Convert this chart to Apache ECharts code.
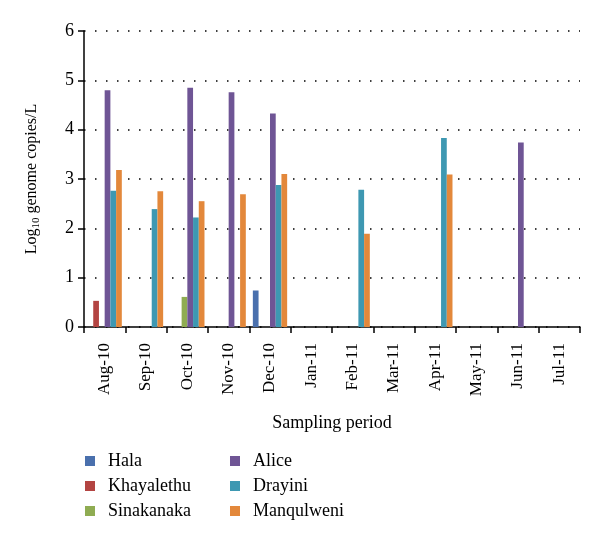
<!DOCTYPE html>
<html>
<head>
<meta charset="utf-8">
<script src="https://cdn.jsdelivr.net/npm/echarts@6/dist/echarts.min.js"></script>
<style>html,body{margin:0;padding:0;background:#fff;}#c{width:600px;height:540px;}</style>
</head>
<body>
<div id="c"></div>
<script>
const categories = ['Aug-10','Sep-10','Oct-10','Nov-10','Dec-10','Jan-11','Feb-11','Mar-11','Apr-11','May-11','Jun-11','Jul-11'];
const hala       = [null, null, null, null, 0.74, null, null, null, null, null, null, null];
const khayalethu = [0.53, null, null, null, null, null, null, null, null, null, null, null];
const sinakanaka = [null, null, 0.61, null, null, null, null, null, null, null, null, null];
const alice      = [4.80, null, 4.85, 4.76, 4.33, null, null, null, null, null, 3.74, null];
const drayini    = [2.76, 2.39, 2.22, null, 2.88, null, 2.78, null, 3.83, null, null, null];
const manqulweni = [3.18, 2.75, 2.55, 2.69, 3.10, null, 1.89, null, 3.09, null, null, null];
const yTicks = [0, 1, 2, 3, 4, 5, 6];

const FONT = '"Liberation Serif", "DejaVu Serif", serif';
const seriesDefs = [
  ['Hala', hala, '#4a70ad'],
  ['Khayalethu', khayalethu, '#b34442'],
  ['Sinakanaka', sinakanaka, '#8fac52'],
  ['Alice', alice, '#6f5595'],
  ['Drayini', drayini, '#3e98b2'],
  ['Manqulweni', manqulweni, '#e3883b']
];
const chart = echarts.init(document.getElementById('c'));
const legendCommon = {
  orient: 'vertical', top: 447, itemWidth: 10, itemHeight: 10, itemGap: 7,
  icon: 'rect', selectedMode: false,
  textStyle: {fontFamily: FONT, fontSize: 18, color: '#000', padding: [0,0,0,8]}
};
chart.setOption({
  animation: false,
  grid: {left: 84, right: 20, top: 31, bottom: 213},
  legend: [
    Object.assign({left: 80, data: ['Hala','Khayalethu','Sinakanaka']}, legendCommon),
    Object.assign({left: 225, data: ['Alice','Drayini','Manqulweni']}, legendCommon)
  ],
  xAxis: {
    type: 'category', data: categories,
    name: 'Sampling period', nameLocation: 'middle', nameGap: 87,
    nameTextStyle: {fontFamily: FONT, fontSize: 18, color: '#000'},
    axisLine: {lineStyle: {color: '#000', width: 1.5}},
    axisTick: {show: true, length: 6, lineStyle: {color: '#000', width: 1.5}},
    axisLabel: {rotate: 90, fontFamily: FONT, fontSize: 17, color: '#000', margin: 16}
  },
  yAxis: {
    type: 'value', min: 0, max: 6, interval: 1,
    name: '{a|Log}{b|10}{a| genome copies/L}', nameLocation: 'middle', nameGap: 42,
    nameTextStyle: {
      rich: {
        a: {fontFamily: FONT, fontSize: 16, color: '#000', lineHeight: 20},
        b: {fontFamily: FONT, fontSize: 11, color: '#000', lineHeight: 20, verticalAlign: 'bottom', padding: [6,0,0,0]}
      }
    },
    axisLine: {show: true, lineStyle: {color: '#000', width: 1.5}},
    axisTick: {show: true, length: 6, lineStyle: {color: '#000', width: 1.5}},
    axisLabel: {fontFamily: FONT, fontSize: 18, color: '#000', margin: 10},
    splitLine: {show: true, lineStyle: {color: '#000', type: [1.5, 9.5], width: 1.5}}
  },
  series: seriesDefs.map(([name, data, color]) => ({
    name, type: 'bar', data, barGap: '0%', barCategoryGap: '17%',
    itemStyle: {color}
  }))
});
</script>
</body>
</html>
